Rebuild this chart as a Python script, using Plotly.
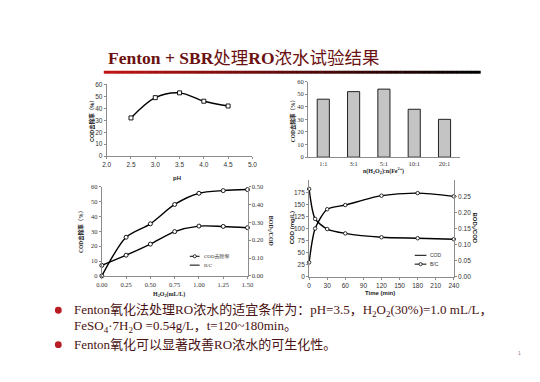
import plotly.graph_objects as go

# ---------------- data ----------------
ph = [2.5, 3.0, 3.5, 4.0, 4.5]
ph_removal = [32, 49, 53, 46, 42]

ratio_labels = ["1:1", "3:1", "5:1", "10:1", "20:1"]
ratio_removal = [46, 52, 54, 38, 30]

h2o2 = [0, 0.25, 0.5, 0.75, 1.0, 1.25, 1.5]
h2o2_removal = [0, 26, 35, 48, 55.5, 57.3, 58]
h2o2_bc = [0.059, 0.116, 0.178, 0.248, 0.279, 0.277, 0.27]

time_min = [0, 10, 30, 60, 120, 180, 240]
time_cod = [182, 120, 99, 90, 82, 80, 78]
time_bc = [0.045, 0.15, 0.21, 0.223, 0.252, 0.26, 0.25]

h2o2_ticks = [0, 0.25, 0.5, 0.75, 1.0, 1.25, 1.5]
h2o2_ticktext = ["0.00", "0.25", "0.50", "0.75", "1.00", "1.25", "1.50"]

# ---------------- helpers ----------------
W, H = 540, 382
def px(x):
    return x / W
def py(y):
    return 1 - y / H

SANS = "Liberation Sans, Noto Sans CJK SC"
SERIF = "Liberation Serif, Noto Sans CJK SC"
AX = "#8c8c8c"
TXT = "#333333"

def axis(domain, font, **kw):
    d = dict(domain=domain, showgrid=False, zeroline=False, showline=True,
             linecolor=AX, linewidth=1, ticks="outside", ticklen=2,
             tickcolor=AX, tickfont=dict(family=font, size=6.5, color=TXT))
    d.update(kw)
    return d

fig = go.Figure()

# Panel 1: pH
fig.add_trace(go.Scatter(x=ph, y=ph_removal, mode="lines+markers",
                         line=dict(color="black", width=1.4, shape="spline", smoothing=1),
                         marker=dict(symbol="square", size=4, color="white",
                                     line=dict(width=0.9, color="black")),
                         xaxis="x", yaxis="y", showlegend=False, cliponaxis=False))

# Panel 2: bars
fig.add_trace(go.Bar(x=ratio_labels, y=ratio_removal, width=0.4,
                     marker=dict(color="#c4c4c4", line=dict(color="#222222", width=1)),
                     xaxis="x2", yaxis="y2", showlegend=False))

# Panel 3: H2O2 dose
fig.add_trace(go.Scatter(x=h2o2, y=h2o2_removal, mode="lines+markers", name="COD去除率",
                         line=dict(color="black", width=1.4, shape="spline", smoothing=0.8),
                         marker=dict(symbol="circle", size=4, color="white",
                                     line=dict(width=0.9, color="black")),
                         xaxis="x3", yaxis="y3", showlegend=False, cliponaxis=False))
fig.add_trace(go.Scatter(x=h2o2, y=h2o2_bc, mode="lines+markers", name="B/C",
                         line=dict(color="black", width=1.4, shape="spline", smoothing=0.8),
                         marker=dict(symbol="circle", size=4, color="white",
                                     line=dict(width=0.9, color="black")),
                         xaxis="x3", yaxis="y5", showlegend=False, cliponaxis=False))

# Panel 4: time
fig.add_trace(go.Scatter(x=time_min, y=time_cod, mode="lines+markers", name="COD",
                         line=dict(color="black", width=1.4, shape="spline", smoothing=0.7),
                         marker=dict(symbol="circle", size=3.5, color="white",
                                     line=dict(width=0.8, color="black")),
                         xaxis="x4", yaxis="y4", showlegend=False, cliponaxis=False))
fig.add_trace(go.Scatter(x=time_min, y=time_bc, mode="lines+markers", name="B/C",
                         line=dict(color="black", width=1.4, shape="spline", smoothing=0.7),
                         marker=dict(symbol="circle", size=3.5, color="white",
                                     line=dict(width=0.8, color="black")),
                         xaxis="x4", yaxis="y6", showlegend=False, cliponaxis=False))

p1x, p1y = [px(103), px(252)], [py(155), py(82)]
p2x, p2y = [px(309), px(464)], [py(156), py(79)]
p3x, p3y = [px(98), px(247)], [py(277), py(186)]
p4x, p4y = [px(310), px(458)], [py(278), py(179.5)]

layout = dict(
    width=W, height=H, margin=dict(l=0, r=0, t=0, b=0),
    paper_bgcolor="white", plot_bgcolor="white", showlegend=False,
    xaxis=axis(p1x, SANS, range=[2, 5], tickvals=[2, 2.5, 3, 3.5, 4, 4.5, 5],
               tickformat=".1f", anchor="y"),
    yaxis=axis(p1y, SANS, range=[0, 60], dtick=10, anchor="x"),
    xaxis2=axis(p2x, SERIF, range=[-0.5, 4.5], ticks="", anchor="y2", type="category"),
    yaxis2=axis(p2y, SERIF, range=[0, 60], dtick=10, anchor="x2"),
    xaxis3=axis(p3x, SERIF, range=[0, 1.5], tickvals=h2o2_ticks, ticktext=h2o2_ticktext,
                anchor="y3"),
    yaxis3=axis(p3y, SERIF, range=[0, 60], dtick=10, anchor="x3"),
    yaxis5=axis(p3y, SERIF, range=[0, 0.5], dtick=0.1, tickformat=".2f",
                overlaying="y3", side="right", anchor="x3"),
    xaxis4=axis(p4x, SANS, range=[0, 240], dtick=30, anchor="y4"),
    yaxis4=axis(p4y, SANS, range=[0, 200], tickvals=[0, 25, 50, 75, 100, 125, 150, 175],
                anchor="x4"),
    yaxis6=axis(p4y, SANS, range=[0, 0.3], tickvals=[0, 0.05, 0.1, 0.15, 0.2, 0.25],
                tickformat=".2f", overlaying="y4", side="right", anchor="x4"),
)
fig.update_layout(**layout)

# ---------------- decorations & text ----------------
shapes = []
N = 80
x0, x1 = 100, 485
for i in range(N):
    t = i / (N - 1)
    r = int(195 * (1 - t) ** 1.1)
    g = int(20 * (1 - t))
    b = int(20 * (1 - t))
    shapes.append(dict(type="rect", xref="paper", yref="paper",
                       x0=px(x0 + (x1 - x0) * i / N), x1=px(x0 + (x1 - x0) * (i + 1) / N + 0.5),
                       y0=py(71), y1=py(68), line=dict(width=0),
                       fillcolor=f"rgb({r},{g},{b})"))

# bullets
for by in (312, 347):
    shapes.append(dict(type="circle", xref="paper", yref="paper",
                       x0=px(50), x1=px(57), y0=py(by + 3.5), y1=py(by - 3.5),
                       line=dict(width=0), fillcolor="#b81d24"))

ann = []
def note(text, x, y, size, family, color="#222222", angle=0, xanchor="center"):
    ann.append(dict(text=text, x=px(x), y=py(y), xref="paper", yref="paper",
                    showarrow=False, textangle=angle, xanchor=xanchor, yanchor="middle",
                    font=dict(size=size, family=family, color=color)))

# manual legends
def legend_entry(xl, xr, y, label, marker, family):
    shapes.append(dict(type="line", xref="paper", yref="paper", x0=px(xl), x1=px(xr),
                       y0=py(y), y1=py(y), line=dict(color="black", width=1)))
    if marker:
        xm = (xl + xr) / 2
        shapes.append(dict(type="circle", xref="paper", yref="paper",
                           x0=px(xm - 1.6), x1=px(xm + 1.6), y0=py(y + 1.6), y1=py(y - 1.6),
                           line=dict(color="black", width=0.8), fillcolor="white"))
    note(label, xr + 2, y, 5, family, color=TXT, xanchor="left")

legend_entry(188, 198, 257, "COD去除率", True, SERIF)
legend_entry(188, 198, 266, "B/C", False, SERIF)
legend_entry(418, 430, 256, "COD", False, SANS)
legend_entry(418, 430, 265, "B/C", True, SANS)

fig.update_layout(shapes=shapes)

# Title
note("<b>Fenton + SBR</b>处理<b>RO</b>浓水试验结果", 243, 55, 17.5, SERIF, color="#6b1111")

# Axis titles
note("<b>COD去除率（%）</b>", 88, 118, 5.5, SANS, angle=-90)
note("<b>pH</b>", 175, 177, 6, SANS)
note("<b>COD去除率（%）</b>", 293, 118, 5.5, SERIF, angle=-90)
note("<b>n(H<sub>2</sub>O<sub>2</sub>):n(Fe<sup>2+</sup>)</b>", 386, 170, 6, SERIF)
note("<b>COD去除率（%）</b>", 76, 231, 5.5, SERIF, angle=-90)
note("<b>BOD<sub>5</sub>/COD</b>", 270, 231, 6, SERIF, angle=90)
note("<b>H<sub>2</sub>O<sub>2</sub>(mL/L)</b>", 167, 296, 6, SERIF)
note("<b>COD (mg/L)</b>", 292, 228, 6, SANS, angle=-90)
note("<b>BOD<sub>5</sub>/COD</b>", 479, 228, 6, SANS, angle=90)
note("<b>Time (min)</b>", 383, 294, 6, SANS)

# Bullet text
TEXTC = "#4a1212"
note("Fenton氧化法处理RO浓水的适宜条件为：pH=3.5，H<sub>2</sub>O<sub>2</sub>(30%)=1.0 mL/L，",
     68, 312, 13, SERIF, color=TEXTC, xanchor="left")
note("FeSO<sub>4</sub>·7H<sub>2</sub>O =0.54g/L，t=120~180min。",
     68, 329, 13, SERIF, color=TEXTC, xanchor="left")
note("Fenton氧化可以显著改善RO浓水的可生化性。",
     68, 347, 13, SERIF, color=TEXTC, xanchor="left")
note("1", 525, 356, 5, SANS, color="#888888")

fig.update_layout(annotations=ann)

fig.write_html("out.html", config={"displayModeBar": False})
with open("out.html", "r", encoding="utf-8") as f:
    html = f.read()
html = html.replace("<body>", "<body style=\"margin:0;padding:0;\">", 1)
with open("out.html", "w", encoding="utf-8") as f:
    f.write(html)
